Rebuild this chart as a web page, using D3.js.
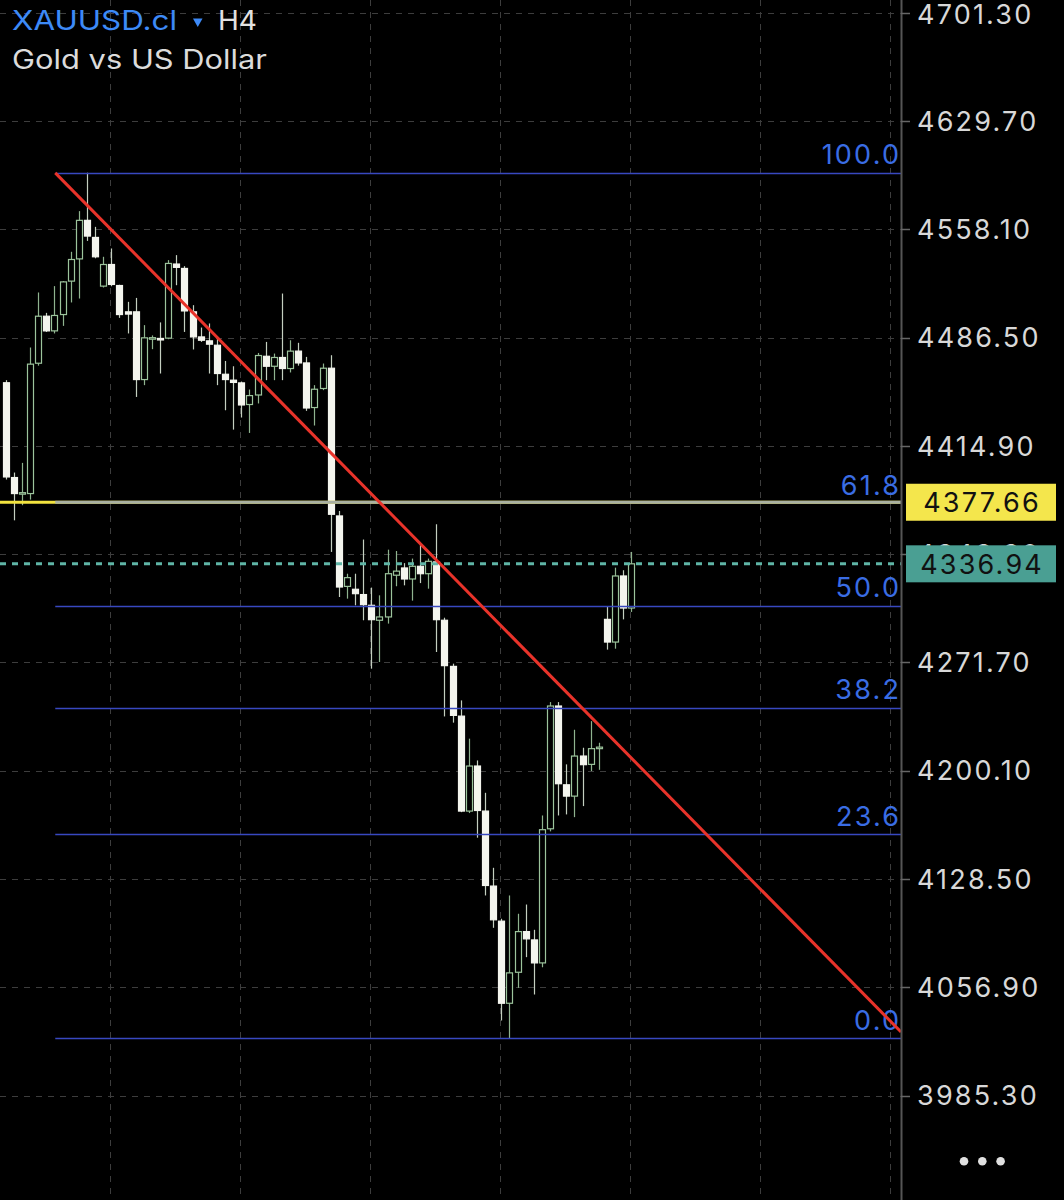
<!DOCTYPE html>
<html>
<head>
<meta charset="utf-8">
<script src="https://cdn.jsdelivr.net/npm/d3@7"></script>
<style>
html,body{margin:0;padding:0;background:#000;}
svg{display:block;}
</style>
</head>
<body>
<svg id="chart" width="1064" height="1200"></svg>
<script>
// ---- data ----
const symbol = "XAUUSD.cl";
const timeframe = "H4";
const description = "Gold vs US Dollar";
const priceTicks = [4701.30, 4629.70, 4558.10, 4486.50, 4414.90, 4343.30, 4271.70, 4200.10, 4128.50, 4056.90, 3985.30];
const opens  = [4456.7,4394.0,4383.4,4383.4,4469.6,4500.7,4491.0,4501.8,4523.9,4538.6,4564.1,4552.8,4520.6,4534.9,4521.0,4503.6,4503.6,4458.8,4486.0,4486.0,4486.2,4535.2,4532.3,4503.6,4487.0,4484.4,4481.5,4462.3,4458.4,4456.6,4442.3,4448.6,4474.2,4467.6,4473.4,4466.1,4477.6,4469.8,4440.3,4452.9,4466.3,4368.6,4322.0,4320.1,4316.6,4309.5,4299.6,4301.8,4329.4,4334.2,4326.9,4335.3,4330.4,4338.2,4299.6,4269.1,4236.2,4173.4,4203.2,4173.4,4123.8,4100.6,4046.3,4066.8,4093.7,4088.2,4073.0,4161.7,4242.9,4190.8,4183.3,4209.8,4204.3,4214.7,4300.2,4285.2,4328.9,4307.7];
const highs  = [4458.4,4397.3,4403.7,4480.0,4516.4,4502.9,4520.6,4524.0,4543.3,4570.2,4595.6,4559.8,4540.0,4545.5,4521.5,4510.2,4512.8,4494.8,4488.0,4496.6,4537.8,4541.1,4533.8,4508.0,4493.2,4495.9,4487.0,4471.1,4467.6,4457.5,4452.2,4476.4,4483.7,4476.0,4515.7,4484.8,4483.1,4473.8,4455.1,4469.4,4474.9,4371.9,4330.4,4330.4,4353.0,4321.2,4316.1,4346.3,4345.4,4337.4,4340.4,4350.7,4340.4,4363.1,4301.3,4270.9,4246.6,4221.3,4206.9,4185.5,4135.9,4102.2,4117.6,4105.5,4111.6,4094.9,4170.5,4245.5,4245.5,4204.3,4227.2,4215.3,4232.9,4218.6,4309.0,4334.4,4332.7,4344.8];
const lows   = [4392.7,4365.7,4375.7,4379.4,4468.0,4490.3,4489.3,4494.3,4509.8,4512.4,4550.5,4539.0,4519.7,4520.5,4499.6,4489.3,4447.3,4455.1,4478.9,4462.8,4485.5,4521.2,4490.3,4478.7,4483.7,4462.8,4455.1,4438.5,4425.7,4433.7,4423.5,4443.0,4458.4,4458.4,4458.4,4463.5,4468.0,4438.1,4428.4,4451.8,4344.8,4315.0,4313.9,4309.5,4299.6,4267.6,4272.0,4297.4,4322.1,4322.7,4312.6,4324.2,4320.5,4278.6,4236.0,4231.9,4172.7,4172.1,4155.8,4117.6,4096.2,4034.9,4022.8,4056.5,4076.8,4052.1,4070.1,4160.0,4170.5,4171.2,4169.4,4176.7,4199.9,4200.7,4280.2,4280.8,4300.2,4305.1];
const closes = [4394.4,4383.4,4384.0,4469.0,4500.7,4491.0,4501.2,4523.4,4538.2,4564.1,4553.7,4540.0,4534.9,4521.7,4501.8,4502.1,4458.8,4486.4,4486.5,4485.5,4535.6,4533.0,4504.2,4487.0,4484.8,4482.2,4462.8,4458.8,4456.9,4442.0,4448.2,4474.7,4467.6,4473.4,4466.1,4477.6,4469.8,4440.0,4452.4,4466.3,4369.7,4321.6,4327.8,4317.2,4309.9,4300.0,4301.8,4330.4,4332.1,4326.9,4335.3,4330.4,4338.6,4300.0,4269.6,4236.7,4173.4,4203.2,4173.8,4124.2,4101.5,4046.3,4066.4,4093.7,4088.9,4073.0,4161.1,4242.9,4191.5,4183.3,4209.8,4204.1,4214.7,4215.7,4285.2,4328.9,4307.7,4336.94];
const fibLevels = [100.0, 61.8, 50.0, 38.2, 23.6, 0.0];
const fibLabels = ["100.0", "61.8", "50.0", "38.2", "23.6", "0.0"];
const fibHigh = 4595.5, fibLow = 4023.0;
const fibStartIndex = 6.1;
const trendStart = {i: 6.1, price: 4595.5};
const trendEnd = {i: 110.2, price: 4027.3};
const hLinePrice = 4377.66;
const lastPrice = 4336.94;
const gridIndex = [12.84, 28.84, 44.84, 60.84, 76.84, 92.84, 108.84];

// ---- layout ----
const svg = d3.select("#chart");
const W = 1064, H = 1200, plotRight = 901;
const y = d3.scaleLinear().domain([3985.3, 4701.3]).range([1095.5, 12.9]);
const x = d3.scaleLinear().domain([0, 77]).range([5.7, 631.3]);
const fmt = d3.format(".2f");

svg.append("rect").attr("width", W).attr("height", H).attr("fill", "#000");

svg.append("defs").append("clipPath").attr("id", "plotclip")
  .append("rect").attr("x", 0).attr("y", 0).attr("width", plotRight).attr("height", H);

const plot = svg.append("g").attr("clip-path", "url(#plotclip)");

// grid
plot.append("g").selectAll("line").data(priceTicks).join("line")
  .attr("x1", 0).attr("x2", plotRight)
  .attr("y1", d => Math.round(y(d)) + 0.5).attr("y2", d => Math.round(y(d)) + 0.5)
  .attr("stroke", "#3d3d3d").attr("stroke-width", 1).attr("stroke-dasharray", "6,6");
plot.append("g").selectAll("line").data(gridIndex).join("line")
  .attr("x1", d => Math.round(x(d)) + 0.5).attr("x2", d => Math.round(x(d)) + 0.5)
  .attr("y1", 0).attr("y2", H)
  .attr("stroke", "#3d3d3d").attr("stroke-width", 1).attr("stroke-dasharray", "6,6");

// candles
const candles = opens.map((o, i) => ({i, o, h: highs[i], l: lows[i], c: closes[i]}));
const cg = plot.append("g");
cg.selectAll("line.wick").data(candles).join("line").attr("class", "wick")
  .attr("x1", d => Math.round(x(d.i)) + 0.5).attr("x2", d => Math.round(x(d.i)) + 0.5)
  .attr("y1", d => y(d.h)).attr("y2", d => y(d.l))
  .attr("stroke", d => d.c >= d.o ? "#8fb38f" : "#c4cfc0").attr("stroke-width", 1.2);
cg.selectAll("rect.body").data(candles).join("rect").attr("class", "body")
  .attr("x", d => Math.round(x(d.i)) - 2.5)
  .attr("width", 6)
  .attr("y", d => y(Math.max(d.o, d.c)))
  .attr("height", d => Math.max(1.5, Math.abs(y(d.o) - y(d.c))))
  .attr("fill", d => d.c >= d.o ? "#000" : "#f4f5ee")
  .attr("stroke", d => d.c >= d.o ? "#9cc49c" : "#f4f5ee")
  .attr("stroke-width", 1.2);

// fib lines
const fibPrice = lv => fibLow + (fibHigh - fibLow) * lv / 100;
plot.append("g").selectAll("line").data(fibLevels.filter(l => l !== 61.8)).join("line")
  .attr("x1", x(fibStartIndex)).attr("x2", plotRight)
  .attr("y1", d => Math.round(y(fibPrice(d))) + 0.5).attr("y2", d => Math.round(y(fibPrice(d))) + 0.5)
  .attr("stroke", "#3848c0").attr("stroke-width", 1.3);

// horizontal line at 4377.66 (yellow) + selected fib 61.8 (gray)
plot.append("line").attr("x1", 0).attr("x2", plotRight)
  .attr("y1", y(hLinePrice)).attr("y2", y(hLinePrice))
  .attr("stroke", "#f2e33f").attr("stroke-width", 3);
plot.append("line").attr("x1", x(fibStartIndex)).attr("x2", plotRight)
  .attr("y1", y(hLinePrice)).attr("y2", y(hLinePrice))
  .attr("stroke", "#a9b0a2").attr("stroke-width", 3);

// fib labels
const LS = 2.2;
plot.append("g").selectAll("text").data(fibLevels).join("text")
  .attr("x", 899 + LS).attr("y", d => y(fibPrice(d)) - 8.5)
  .attr("text-anchor", "end")
  .attr("font-family", "Inter, 'Open Sans', sans-serif").attr("font-size", 27)
  .attr("letter-spacing", LS)
  .attr("fill", "#3a6de4")
  .text((d, k) => fibLabels[k]);

// last price dashed line
plot.append("line").attr("x1", 0).attr("x2", plotRight)
  .attr("y1", y(lastPrice)).attr("y2", y(lastPrice))
  .attr("stroke", "#5fb5a6").attr("stroke-width", 3).attr("stroke-dasharray", "6,6");

// trend line
plot.append("line")
  .attr("x1", x(trendStart.i)).attr("y1", y(trendStart.price))
  .attr("x2", x(trendEnd.i)).attr("y2", y(trendEnd.price))
  .attr("stroke", "#e8332a").attr("stroke-width", 3);

// axis separator & ticks
svg.append("line").attr("x1", plotRight + 0.5).attr("x2", plotRight + 0.5).attr("y1", 0).attr("y2", H)
  .attr("stroke", "#555").attr("stroke-width", 2);
svg.append("g").selectAll("line").data(priceTicks).join("line")
  .attr("x1", plotRight).attr("x2", 910)
  .attr("y1", d => Math.round(y(d)) + 0.5).attr("y2", d => Math.round(y(d)) + 0.5)
  .attr("stroke", "#666").attr("stroke-width", 1.5);
svg.append("g").selectAll("text").data(priceTicks).join("text")
  .attr("x", 917).attr("y", d => Math.max(y(d), 14)).attr("dy", "0.36em")
  .attr("font-family", "Inter, 'Open Sans', sans-serif").attr("font-size", 27)
  .attr("letter-spacing", LS)
  .attr("fill", "#d8d8d8")
  .text(d => fmt(d));

// price boxes
function priceBox(p, fill) {
  const g = svg.append("g");
  g.append("rect").attr("x", 906).attr("y", y(p) - 18.5).attr("width", 150).attr("height", 37).attr("fill", fill);
  g.append("text").attr("x", 981 + LS / 2).attr("y", y(p)).attr("dy", "0.36em")
    .attr("text-anchor", "middle")
    .attr("font-family", "Inter, 'Open Sans', sans-serif").attr("font-size", 27)
    .attr("letter-spacing", LS)
    .attr("fill", "#111").text(fmt(p));
}
priceBox(hLinePrice, "#f4e64c");
priceBox(lastPrice, "#4a9f93");

// title
const tg = svg.append("g").attr("font-family", "Inter, 'Open Sans', sans-serif");
tg.append("text").attr("x", 12).attr("y", 29.5).attr("font-size", 27)
  .attr("fill", "#3d8af7").attr("textLength", 165).attr("lengthAdjust", "spacingAndGlyphs").text(symbol);
tg.append("path").attr("d", "M193,18.5 L202.5,18.5 L197.75,27 Z").attr("fill", "#3d8af7");
tg.append("text").attr("x", 218).attr("y", 29.5).attr("font-size", 27)
  .attr("fill", "#e2e2e2").attr("textLength", 39).attr("lengthAdjust", "spacingAndGlyphs").text(timeframe);
tg.append("text").attr("x", 12).attr("y", 68.5).attr("font-size", 26.5)
  .attr("fill", "#dcdcdc").attr("textLength", 255).attr("lengthAdjust", "spacingAndGlyphs").text(description);

// menu dots
svg.append("g").selectAll("circle").data([0, 1, 2]).join("circle")
  .attr("cx", d => 964 + d * 18.3).attr("cy", 1161.3).attr("r", 4.3).attr("fill", "#e0e0e0");
</script>
</body>
</html>
